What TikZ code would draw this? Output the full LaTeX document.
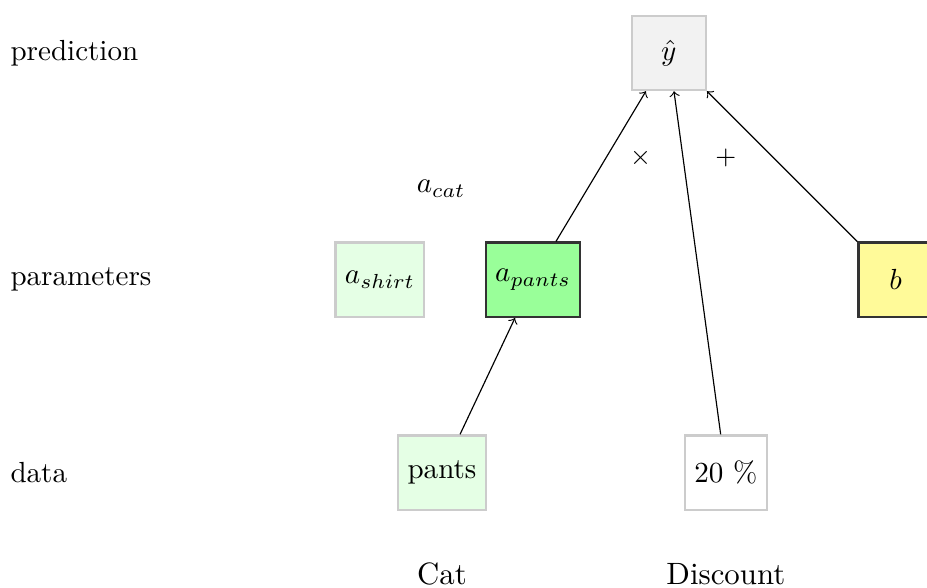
\documentclass[tikz,border=0pt]{standalone}
\usepackage{tikz}

\begin{document}
\begin{tikzpicture}[
    box/.style={draw=gray!40, thick, minimum size=25.5pt, inner sep=3.2pt},
    param/.style={box, fill=green!10},
    active/.style={box, draw=black!80, fill=green!40},
    bias/.style={box, draw=black!80, fill=yellow!40},
    rowlabel/.style={anchor=west, inner sep=0pt},
    feature/.style={font=\fontsize{10.6}{12}\selectfont},
    op/.style={font=\small}
  ]
  \useasboundingbox (0,0) rectangle (11.2,7.1);

  \node[rowlabel] (lpred) at (0.12,6.46) {prediction};
  \node[rowlabel] (lpar) at (0.12,3.72) {parameters};
  \node[rowlabel] (ldata) at (0.12,1.39) {data};

  \node[box, fill=gray!10] (yhat) at (8.08,6.46) {$\hat{y}$};

  \node (acat) at (5.33,4.82) {$a_{cat}$};
  \node[param] (ashirt) at (4.59,3.72) {$a_{shirt}$};
  \node[active] (apants) at (6.44,3.72) {$a_{pants}$};
  \node[bias] (b) at (10.82,3.72) {$b$};

  \node[param] (pants) at (5.34,1.39) {pants};
  \node[box, fill=white] (disc) at (8.77,1.39) {20 \%};

  \node[feature] (cat) at (5.34,0.16) {Cat};
  \node[feature] (discount) at (8.77,0.16) {Discount};

  \node[op] (times) at (7.74,5.19) {$\times$};
  \node[op] (plus) at (8.77,5.19) {$+$};

  \draw[->] (pants) -- (apants);
  \draw[->] (apants) -- (yhat);
  \draw[->] (disc) -- (yhat);
  \draw[->] (b) -- (yhat);
\end{tikzpicture}
\end{document}
